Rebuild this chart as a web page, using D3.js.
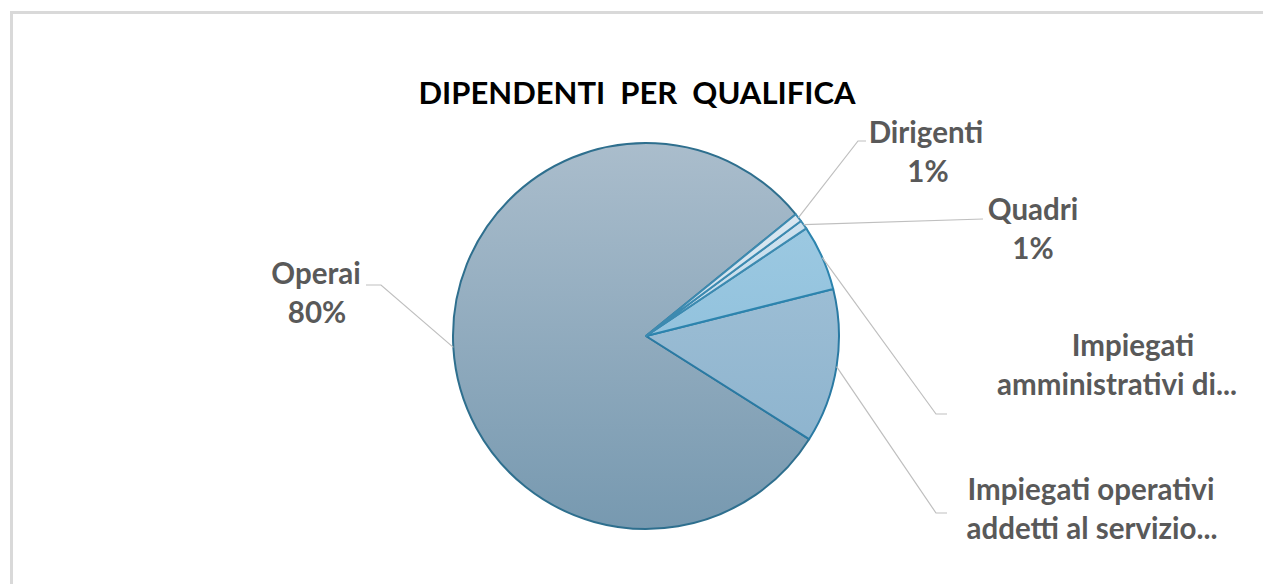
<!DOCTYPE html>
<html>
<head>
<meta charset="utf-8">
<script src="https://cdn.jsdelivr.net/npm/d3@7"></script>
<style>
  html, body { margin: 0; padding: 0; background: #ffffff; }
  svg { display: block; }
  text { font-family: Lato, "Open Sans", sans-serif; font-weight: bold; }
</style>
</head>
<body>
<svg id="chart" width="1263" height="584"></svg>
<script>
// ---- data ----
const title = "DIPENDENTI  PER  QUALIFICA";
const categories = ["Dirigenti", "Quadri", "Impiegati amministrativi di...", "Impiegati operativi addetti al servizio...", "Operai"];
const values = [0.7, 0.75, 5.5, 12.9, 80.2];
const labelLines = [
  ["Dirigenti", "1%"],
  ["Quadri", "1%"],
  ["Impiegati", "amministrativi di..."],
  ["Impiegati operativi", "addetti al servizio..."],
  ["Operai", "80%"]
];

// ---- layout ----
const cx = 646, cy = 336, R = 193;
const startDeg = 50.9;
const svg = d3.select("#chart");

// chart border
svg.append("rect")
  .attr("x", 11.5).attr("y", 12.5).attr("width", 1262).attr("height", 600)
  .attr("fill", "#fff").attr("stroke", "#d9d9d9").attr("stroke-width", 3);

// gradients (in the pie group's coordinate system)
const fills = [
  ["#dde9f2", "#c6dae8"],
  ["#d2e4f0", "#b9d4e6"],
  ["#a3cde4", "#82b8d7"],
  ["#a9c6da", "#86afcb"],
  ["#aabdcc", "#7799b0"]
];
const defs = svg.append("defs");
fills.forEach((f, i) => {
  const gr = defs.append("linearGradient").attr("id", "g" + i)
    .attr("gradientUnits", "userSpaceOnUse")
    .attr("x1", 0).attr("y1", -R).attr("x2", 0).attr("y2", R);
  gr.append("stop").attr("offset", "0%").attr("stop-color", f[0]);
  gr.append("stop").attr("offset", "100%").attr("stop-color", f[1]);
});
const strokes = ["#3d8ab0", "#3d8ab0", "#2c84ae", "#2a7aa3", "#2e6f8e"];

const pie = d3.pie().sort(null).value(d => d)
  .startAngle(startDeg * Math.PI / 180)
  .endAngle(startDeg * Math.PI / 180 + 2 * Math.PI);
const arcs = pie(values);
const arc = d3.arc().innerRadius(0).outerRadius(R);

const g = svg.append("g").attr("transform", `translate(${cx},${cy})`);
const order = [4, 3, 2, 1, 0];
order.forEach(i => {
  g.append("path").attr("d", arc(arcs[i]))
    .attr("fill", `url(#g${i})`)
    .attr("stroke", strokes[i]).attr("stroke-width", 2)
    .attr("stroke-linejoin", "round");
});

// title
svg.append("text").attr("x", 637).attr("y", 104)
  .attr("text-anchor", "middle").attr("font-size", 31).attr("fill", "#000")
  .style("white-space", "pre").text(title);

// labels & leader lines
const labelPos = [
  { xs: [926, 928], y: 143, elbow: [858, 141], end: [866, 141] },
  { xs: [1033, 1033], y: 220, elbow: [983, 219], end: [983, 219] },
  { xs: [1133, 1117], y: 356, elbow: [936, 414], end: [947, 414] },
  { xs: [1091, 1092], y: 500, elbow: [936, 513], end: [947, 513] },
  { xs: [316, 317], y: 284, elbow: [381, 285], end: [366, 285] }
];
arcs.forEach((a, i) => {
  const mid = (a.startAngle + a.endAngle) / 2;
  const sx = cx + R * Math.sin(mid), sy = cy - R * Math.cos(mid);
  const p = labelPos[i];
  svg.append("polyline")
    .attr("points", [[sx, sy], p.elbow, p.end].map(q => q.join(",")).join(" "))
    .attr("fill", "none").attr("stroke", "#bfbfbf").attr("stroke-width", 1.2);
  const t = svg.append("text").attr("text-anchor", "middle")
    .attr("font-size", 29.5).attr("fill", "#595959");
  labelLines[i].forEach((ln, k) => {
    t.append("tspan").attr("x", p.xs[k]).attr("y", p.y + k * 39).text(ln);
  });
});
</script>
</body>
</html>
